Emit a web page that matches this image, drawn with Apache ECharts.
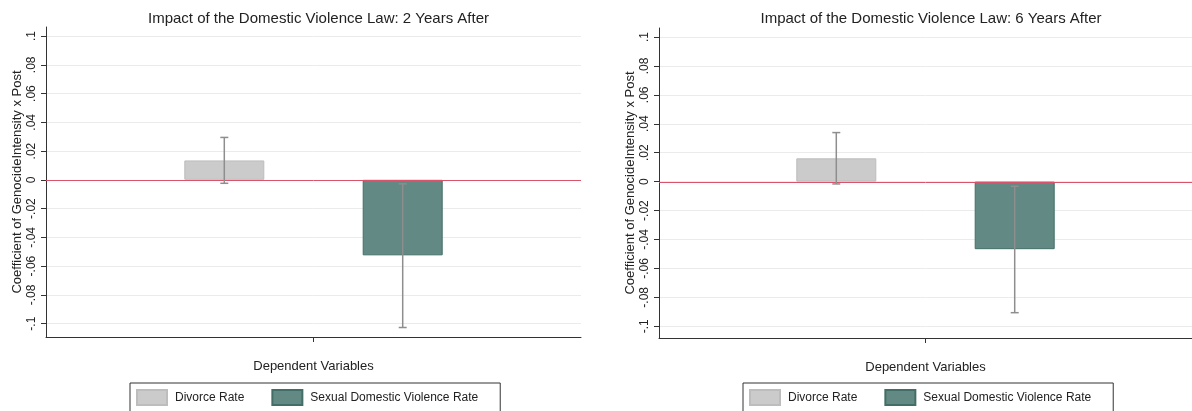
<!DOCTYPE html>
<html>
<head>
<meta charset="utf-8">
<script src="https://cdn.jsdelivr.net/npm/echarts@6/dist/echarts.min.js"></script>
<style>
  html, body { margin: 0; padding: 0; background: #fff; }
  #chart { width: 1192px; height: 411px; }
</style>
</head>
<body>
<div id="chart"></div>
<script>
// Panel titles and the two dependent variables
const panelTitles = [
  'Impact of the Domestic Violence Law: 2 Years After',
  'Impact of the Domestic Violence Law: 6 Years After'
];
const seriesNames = ['Divorce Rate', 'Sexual Domestic Violence Rate'];
const categoryNames = ['Dependent Variables'];

// Point estimates and 95% confidence bounds, 2 years after
const coef2yr  = [0.0135, -0.0525];
const lower2yr = [-0.0024, -0.1027];
const upper2yr = [0.0295, -0.0028];

// Point estimates and 95% confidence bounds, 6 years after
const coef6yr  = [0.0161, -0.0467];
const lower6yr = [-0.0016, -0.0906];
const upper6yr = [0.0339, -0.0032];

// Y tick values
const yTicks = [-0.1, -0.08, -0.06, -0.04, -0.02, 0, 0.02, 0.04, 0.06, 0.08, 0.1];

const FONT = 'Liberation Sans, Arial, Helvetica, sans-serif';
const TXT = '#222';
const barColors = ['#cbcbcb', '#628983'];
const barBorders = ['#bdbdbd', '#436e67'];
const ZERO_COLOR = '#d9546b';
const BAR_W = 80;
const BAR_GAP = '123%';

function fmtTick(v) {
  if (Math.abs(v) < 1e-9) return '0';
  return String(+v.toFixed(2)).replace('0.', '.');
}

const panels = [
  { coef: coef2yr, lo: lower2yr, hi: upper2yr, grid: { left: 46, width: 535, top: 27, height: 310 },
    yMin: -0.1093, yMax: 0.1063, center: 313.5, legendLeft: 130 },
  { coef: coef6yr, lo: lower6yr, hi: upper6yr, grid: { left: 659, width: 533, top: 28, height: 310 },
    yMin: -0.1081, yMax: 0.1062, center: 926, legendLeft: 743 }
];

const option = {
  backgroundColor: '#fff',
  animation: false,
  title: [],
  grid: [],
  xAxis: [],
  yAxis: [],
  legend: [],
  series: []
};

panels.forEach((p, k) => {
  option.title.push({
    text: panelTitles[k],
    left: p.center,
    textAlign: 'center',
    top: 6,
    textStyle: { fontFamily: FONT, fontSize: 15, fontWeight: 'normal', color: TXT }
  });
  option.grid.push(Object.assign({ containLabel: false }, p.grid));
  option.xAxis.push({
    type: 'category',
    gridIndex: k,
    data: categoryNames,
    boundaryGap: true,
    axisLine: { onZero: false, lineStyle: { color: '#333', width: 1 } },
    axisTick: { show: true, alignWithLabel: true, length: 5, lineStyle: { color: '#333' } },
    axisLabel: { show: false },
    splitLine: { show: false },
    name: categoryNames[0],
    nameLocation: 'middle',
    nameGap: 23,
    nameTextStyle: { fontFamily: FONT, fontSize: 13, color: TXT }
  });
  option.yAxis.push({
    type: 'value',
    gridIndex: k,
    min: p.yMin,
    max: p.yMax,
    axisLine: { show: true, onZero: false, lineStyle: { color: '#333', width: 1 } },
    axisTick: { show: true, length: 5, customValues: yTicks, lineStyle: { color: '#333' } },
    axisLabel: {
      customValues: yTicks,
      rotate: 90,
      margin: 8,
      formatter: fmtTick,
      fontFamily: FONT, fontSize: 12, color: TXT
    },
    splitLine: { show: true, lineStyle: { color: '#ebebeb', width: 1 } },
    name: 'Coefficient of GenocideIntensity x Post',
    nameLocation: 'middle',
    nameGap: 22,
    nameTextStyle: { fontFamily: FONT, fontSize: 13, color: TXT }
  });
  option.legend.push({
    data: seriesNames,
    left: p.legendLeft,
    top: 383,
    orient: 'horizontal',
    icon: 'rect',
    itemWidth: 30,
    itemHeight: 15,
    itemGap: 27,
    padding: [6, 22, 6, 6],
    borderColor: '#333',
    borderWidth: 1,
    selectedMode: false,
    textStyle: { fontFamily: FONT, fontSize: 12, color: TXT, padding: [0, 0, 0, 3] }
  });

  seriesNames.forEach((name, i) => {
    option.series.push({
      name: name,
      type: 'bar',
      xAxisIndex: k,
      yAxisIndex: k,
      barWidth: BAR_W,
      barGap: BAR_GAP,
      z: 2,
      itemStyle: { color: barColors[i], borderColor: barBorders[i], borderWidth: 1 },
      data: [p.coef[i]]
    });
  });

  // Zero reference line and confidence intervals over each bar
  option.series.push({
    type: 'custom',
    xAxisIndex: k,
    yAxisIndex: k,
    z: 5,
    silent: true,
    data: seriesNames.map((n, i) => [0, p.lo[i], p.hi[i], i]),
    encode: { x: 0, y: [1, 2] },
    renderItem: function (params, api) {
      const idx = api.value(3);
      let offset;
      if (api.barLayout) {
        const layout = api.barLayout({ count: seriesNames.length, barWidth: BAR_W, barGap: BAR_GAP });
        offset = layout[idx].offsetCenter;
      } else {
        offset = (idx === 0 ? -1 : 1) * BAR_W * (1 + 1.23) / 2;
      }
      const a = api.coord([api.value(0), api.value(1)]);
      const b = api.coord([api.value(0), api.value(2)]);
      const x = a[0] + offset;
      const cap = 4;
      const style = { stroke: '#8e8e8e', lineWidth: 1.5 };
      const children = [
        { type: 'line', shape: { x1: x, y1: a[1], x2: x, y2: b[1] }, style: style },
        { type: 'line', shape: { x1: x - cap, y1: a[1], x2: x + cap, y2: a[1] }, style: style },
        { type: 'line', shape: { x1: x - cap, y1: b[1], x2: x + cap, y2: b[1] }, style: style }
      ];
      if (idx === 0) {
        const cs = params.coordSys;
        const y0 = Math.round(api.coord([0, 0])[1]) + 0.5;
        children.unshift({
          type: 'line',
          z2: 0,
          shape: { x1: cs.x, y1: y0, x2: cs.x + cs.width, y2: y0 },
          style: { stroke: ZERO_COLOR, lineWidth: 1 }
        });
      }
      return { type: 'group', children: children };
    }
  });
});

const chart = echarts.init(document.getElementById('chart'), null, { renderer: 'canvas' });
chart.setOption(option);
</script>
</body>
</html>
